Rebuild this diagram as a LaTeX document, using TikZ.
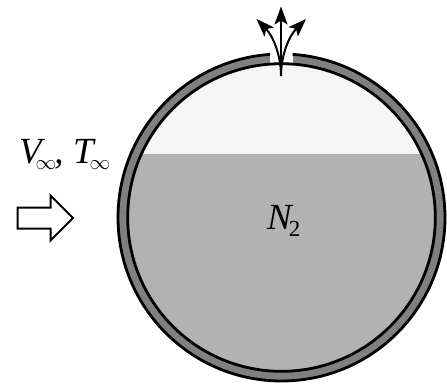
\documentclass[tikz,border=0pt]{standalone}
\usepackage{fontspec}
\setmainfont{Liberation Serif}
\usetikzlibrary{arrows.meta}
\definecolor{wallgray}{gray}{0.5}
\definecolor{liquidgray}{gray}{0.70}
\definecolor{gasgray}{gray}{0.965}
\tikzset{
  x=1bp,y=-1bp,
  ventarrow/.style={line width=2bp,-{Stealth[length=18bp,width=13bp,inset=4bp]}},
  label text/.style={inner sep=0pt,anchor=base west,font=\fontsize{37}{37}\selectfont\itshape}
}
\newcommand{\subinf}{\raisebox{-6bp}{\fontsize{21}{21}\selectfont$\infty$}}
\begin{document}
\begin{tikzpicture}
\useasboundingbox (0,0) rectangle (447,385);
\coordinate (c) at (281.5,217.5);
% wall
\fill[wallgray] (c) circle[radius=163.5];
% interior
\fill[gasgray] (c) circle[radius=153.8];
\begin{scope}
  \clip (c) circle[radius=153.8];
  \fill[liquidgray] (100,153.5) rectangle (460,385);
\end{scope}
% vent gap
\fill[white] (270,52) rectangle (292.5,65);
% outlines
\begin{scope}
  \clip (0,0) rectangle (270,385) (292.5,0) rectangle (447,385) (0,70) rectangle (447,385);
  \draw[line width=2.8bp] (c) circle[radius=163.5];
\end{scope}
\draw[line width=2.8bp] (c) circle[radius=153.8];
% vent arrows
\coordinate (ventbase) at (281,76);
\coordinate (tipc) at (281,6.5);
\coordinate (tipl) at (256.5,19);
\coordinate (tipr) at (306,19);
\draw[ventarrow] (ventbase) -- (tipc);
\draw[ventarrow] (ventbase) .. controls (281,55) and (273,36) .. (tipl);
\draw[ventarrow] (ventbase) .. controls (281,55) and (289,36) .. (tipr);
% flow arrow
\draw[line width=2bp,miter limit=10] (17.5,207.5) -- (50.5,207.5) -- (50.5,195.5) -- (73,218) -- (50.5,240.5) -- (50.5,228.5) -- (17.5,228.5) -- cycle;
% labels
\node[label text] (vinf) at (19,163) {V\hspace{-6bp}\subinf\hspace{-2bp},};
\node[label text] (tinf) at (73,163) {T\hspace{-4bp}\subinf};
\node[label text] (ntwo) at (267,229) {N\hspace{-3bp}\raisebox{-7bp}{\fontsize{23}{23}\selectfont\upshape 2}};
\end{tikzpicture}
\end{document}
